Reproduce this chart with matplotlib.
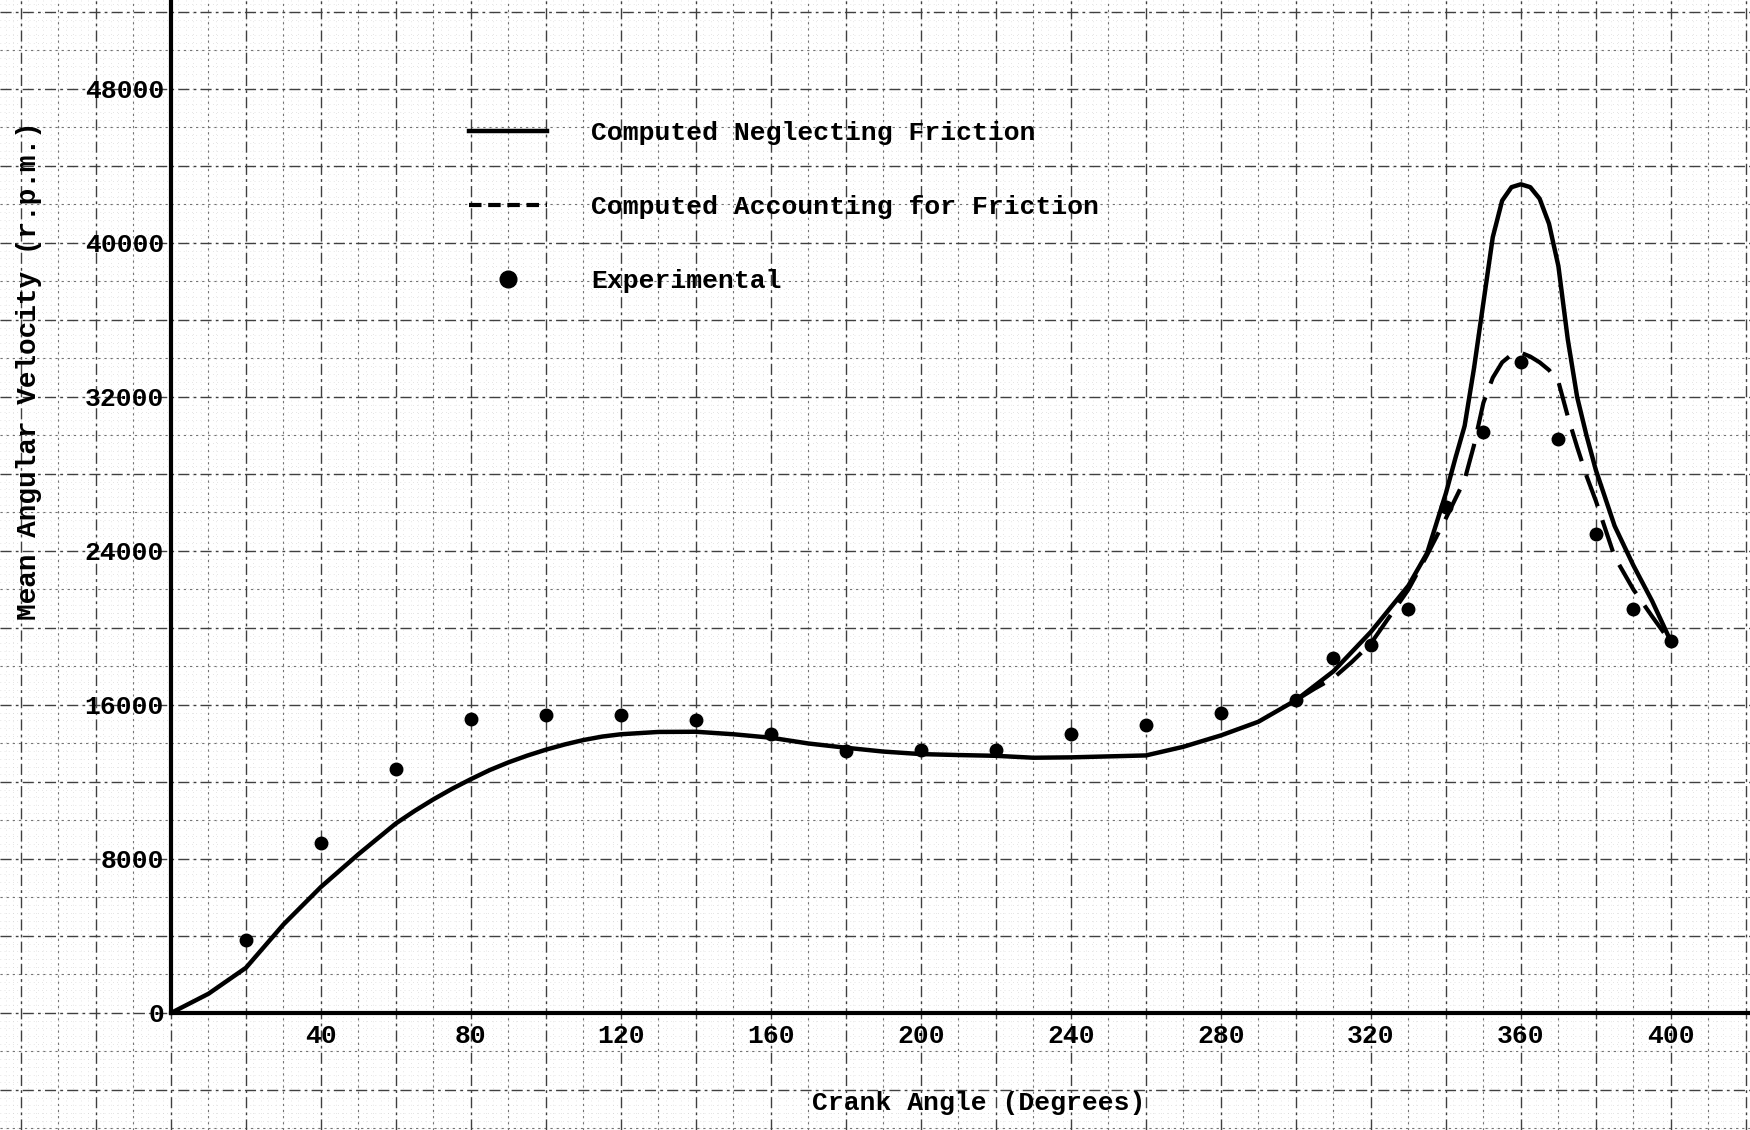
import numpy as np
import matplotlib
matplotlib.use("Agg")
import matplotlib.pyplot as plt
from matplotlib.lines import Line2D

# ---------------- data ----------------
angle_nf = [0, 10, 20, 30, 40, 50, 55, 60, 65, 70, 75, 80, 85, 90, 95, 100, 105, 110,
            115, 120, 130, 140, 150, 160, 170, 180, 190, 200, 210, 220, 230, 240, 250,
            260, 270, 280, 290, 300, 310, 320, 325, 330, 335, 340, 342.5, 345, 347.5,
            350, 352.5, 355, 357.5, 360, 362.5, 365, 367.5, 370, 372.5, 375, 377.5,
            380, 385, 390, 395, 400]
rpm_nf = [0, 1000, 2350, 4600, 6550, 8250, 9050, 9850, 10500, 11100, 11650, 12150,
          12620, 13020, 13370, 13680, 13950, 14180, 14360, 14480, 14600, 14610, 14480,
          14300, 14000, 13780, 13580, 13450, 13400, 13360, 13260, 13280, 13330, 13380,
          13830, 14420, 15130, 16250, 17750, 19800, 21000, 22200, 23900, 27000, 28800,
          30500, 33500, 36900, 40300, 42200, 42900, 43050, 42900, 42300, 41000, 38800,
          35000, 32000, 30000, 28200, 25300, 23250, 21400, 19300]

angle_f = [300, 305, 310, 315, 320, 325, 330, 335, 340, 345, 347.5, 350, 352.5, 355,
           357.5, 360, 362.5, 365, 367.5, 370, 372.5, 375, 377.5, 380, 385, 390, 395, 400]
rpm_f = [16250, 16850, 17400, 18250, 19200, 20600, 22000, 23800, 25700, 27700, 29500,
         31700, 33000, 33800, 34200, 34300, 34100, 33800, 33400, 32800, 31000, 29400,
         27900, 26600, 23700, 22000, 20600, 19250]

angle_exp = [20, 40, 60, 80, 100, 120, 140, 160, 180, 200, 220, 240, 260, 280, 300,
             310, 320, 330, 340, 350, 360, 370, 380, 390, 400]
rpm_exp = [3800, 8850, 12650, 15250, 15500, 15500, 15200, 14500, 13600, 13650, 13650,
           14500, 14950, 15600, 16250, 18450, 19100, 21000, 26300, 30200, 33800, 29800,
           24900, 21000, 19350]

x_ticks = [40, 80, 120, 160, 200, 240, 280, 320, 360, 400]
y_ticks = [0, 8000, 16000, 24000, 32000, 40000, 48000]

labels = ["Computed Neglecting Friction", "Computed Accounting for Friction", "Experimental"]

# ---------------- style ----------------
FONT = "Liberation Mono"
plt.rcParams['font.family'] = [FONT, 'DejaVu Sans']
plt.rcParams['font.weight'] = 'bold'

XMIN, XMAX = -45.6, 421.1
YMIN, YMAX = -6078, 52623

fig = plt.figure(figsize=(17.5, 11.3), dpi=100)
ax = fig.add_axes([0, 0, 1, 1])
ax.set_xlim(XMIN, XMAX)
ax.set_ylim(YMIN, YMAX)
ax.set_facecolor('white')

# graph-paper grid
for xv in np.arange(-44, 422, 2):
    ax.axvline(xv, color='0.8', lw=0.5, ls=(0, (1, 5)), zorder=0)
for yv in np.arange(-6000, 52800, 400):
    ax.axhline(yv, color='0.8', lw=0.5, ls=(0, (1, 5)), zorder=0)
for xv in np.arange(-40, 422, 10):
    if xv % 20:
        ax.axvline(xv, color='0.45', lw=0.8, ls=(0, (2, 3.5)), zorder=0.5)
for yv in np.arange(-6000, 52800, 2000):
    if yv % 4000:
        ax.axhline(yv, color='0.45', lw=0.8, ls=(0, (2, 3.5)), zorder=0.5)
for xv in np.arange(-40, 422, 20):
    ax.axvline(xv, color='0.25', lw=1.0, ls=(0, (8, 3, 2, 3)), zorder=0.6)
for yv in np.arange(-4000, 52800, 4000):
    ax.axhline(yv, color='0.25', lw=1.0, ls=(0, (8, 3, 2, 3)), zorder=0.6)

# data
ax.plot(angle_nf, rpm_nf, color='black', lw=3.2, solid_capstyle='round',
        solid_joinstyle='round', zorder=3)
ax.plot(angle_f, rpm_f, color='black', lw=3.0, dashes=(8, 3.5), zorder=3)
ax.plot(angle_exp, rpm_exp, ls='none', marker='o', ms=9, color='black', zorder=4)

# axes (spines at data origin)
for s in ['top', 'right']:
    ax.spines[s].set_visible(False)
ax.spines['left'].set_position(('data', 0))
ax.spines['bottom'].set_position(('data', 0))
ax.spines['left'].set_linewidth(3)
ax.spines['bottom'].set_linewidth(3)
ax.spines['left'].set_bounds(0, YMAX)
ax.spines['bottom'].set_bounds(0, XMAX)
ax.spines['left'].set_zorder(5)
ax.spines['bottom'].set_zorder(5)

ax.set_xticks(x_ticks)
ax.set_xticklabels([str(v) for v in x_ticks])
ax.set_yticks(y_ticks)
ax.set_yticklabels([str(v) for v in y_ticks])
ax.tick_params(axis='both', length=0, labelsize=19)
ax.tick_params(axis='x', pad=8)
ax.tick_params(axis='y', pad=5)
for t in ax.get_xticklabels() + ax.get_yticklabels():
    t.set_fontweight('bold')
    t.set_fontfamily(FONT)

ax.set_xlabel("Crank Angle (Degrees)", fontsize=19, fontweight='bold')
ax.xaxis.set_label_coords(215.5, -4050, transform=ax.transData)
ax.set_ylabel("Mean Angular Velocity (r.p.m.)", fontsize=20, fontweight='bold')
ax.yaxis.set_label_coords(-34.5, 33350, transform=ax.transData)

handles = [
    Line2D([], [], color='black', lw=3.2),
    Line2D([], [], color='black', lw=3.0, dashes=(3, 1.6)),
    Line2D([], [], color='black', ls='none', marker='o', ms=12),
]
leg = ax.legend(handles, labels, loc='upper left', bbox_to_anchor=(79.5, 46350),
                bbox_transform=ax.transData, frameon=False, fontsize=19,
                handlelength=2.95, handletextpad=1.67, labelspacing=1.9,
                borderpad=0, borderaxespad=0)
for t in leg.get_texts():
    t.set_fontweight('bold')
leg.set_zorder(6)

fig.savefig("out.png", dpi=100, facecolor='white')
